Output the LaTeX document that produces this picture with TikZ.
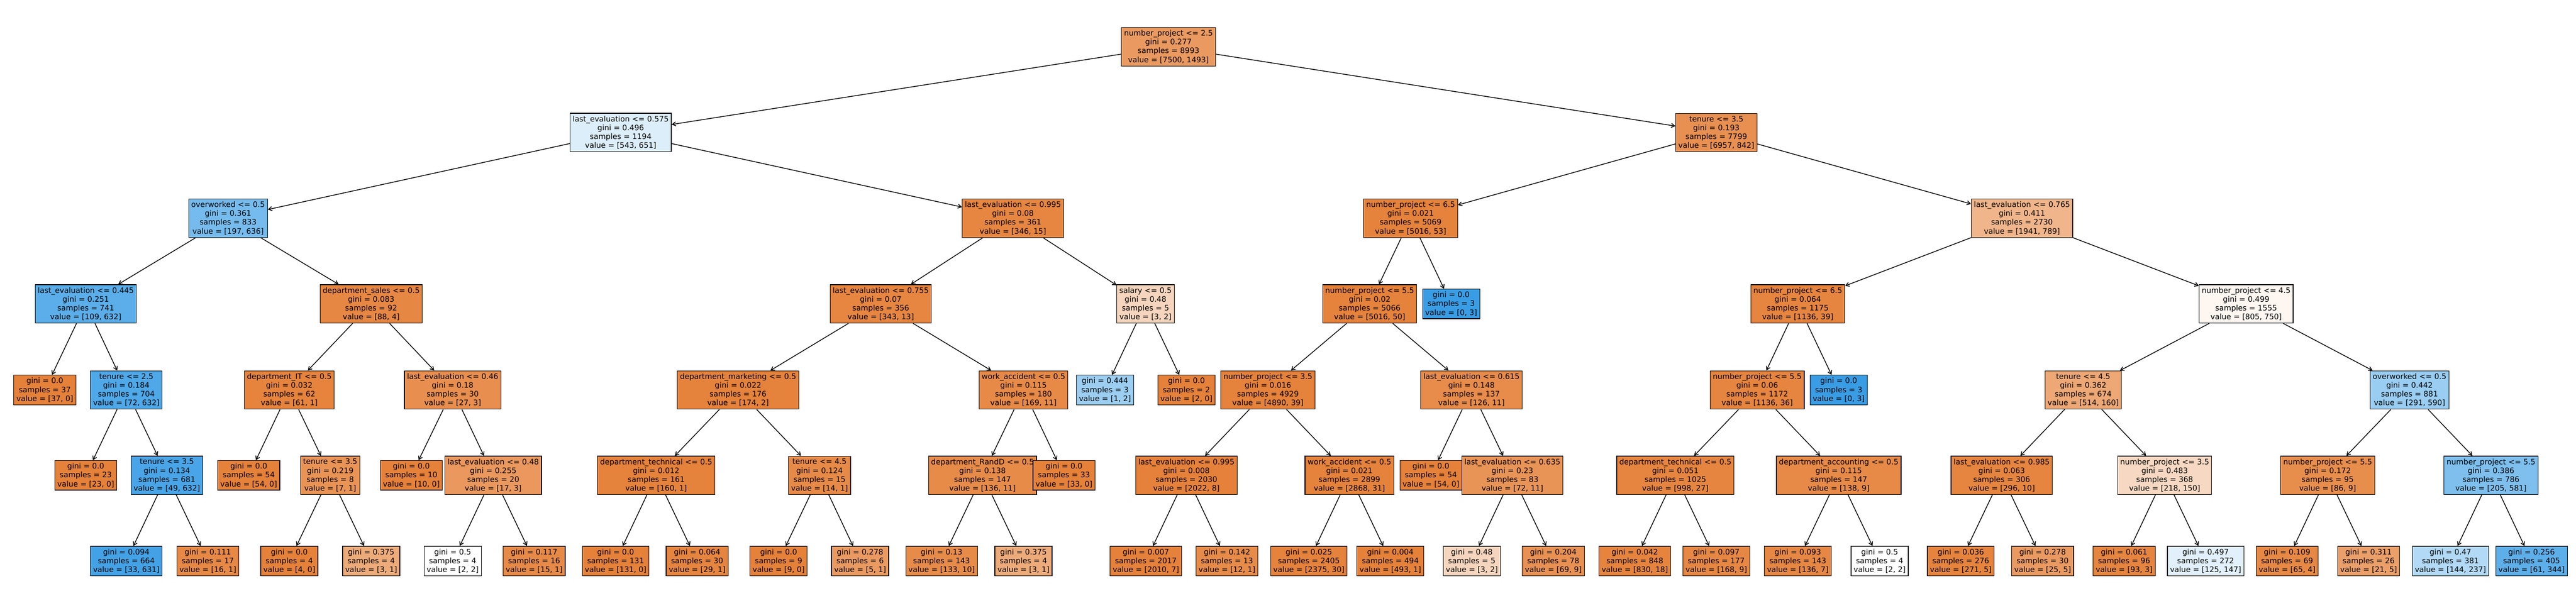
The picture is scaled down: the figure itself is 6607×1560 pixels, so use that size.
\documentclass[tikz,border=0pt]{standalone}
\usepackage{fontspec}
\setmainfont{DejaVu Sans}
\usetikzlibrary{arrows.meta}
\definecolor{orng}{RGB}{229,129,57}
\definecolor{blu}{RGB}{57,157,229}
\tikzset{
  box/.style={draw=black, line width=0.45pt, align=center, inner sep=1.9pt,
    font=\fontsize{5.5}{6.45}\selectfont},
  edge/.style={-{Straight Barb[length=2.5pt,width=3pt]}, line width=0.55pt}
}
\begin{document}
\begin{tikzpicture}[x=0.01cm,y=-0.01cm]
        \useasboundingbox (0,0) rectangle (6607,1560);
        % level 0 and 1
        \node[box,fill=orng!80] (n0) at (2997,120) {number\_project <= 2.5\\gini = 0.277\\samples = 8993\\value = [7500, 1493]};
        \node[box,fill=blu!17] (n1) at (1592,340) {last\_evaluation <= 0.575\\gini = 0.496\\samples = 1194\\value = [543, 651]};
        % left branch
        \node[box,fill=blu!69] (n2) at (585,560) {overworked <= 0.5\\gini = 0.361\\samples = 833\\value = [197, 636]};
        \node[box,fill=blu!83] (n3) at (220,780) {last\_evaluation <= 0.445\\gini = 0.251\\samples = 741\\value = [109, 632]};
        \node[box,fill=orng] (n4) at (115,1001) {gini = 0.0\\samples = 37\\value = [37, 0]};
        \node[box,fill=blu!89] (n5) at (324,1001) {tenure <= 2.5\\gini = 0.184\\samples = 704\\value = [72, 632]};
        \node[box,fill=orng] (n6) at (220,1220) {gini = 0.0\\samples = 23\\value = [23, 0]};
        \node[box,fill=blu!92] (n7) at (428,1220) {tenure <= 3.5\\gini = 0.134\\samples = 681\\value = [49, 632]};
        \node[box,fill=blu!95] (n8) at (324,1440) {gini = 0.094\\samples = 664\\value = [33, 631]};
        \node[box,fill=orng!94] (n9) at (533,1440) {gini = 0.111\\samples = 17\\value = [16, 1]};
        \node[box,fill=orng!95] (n10) at (952,780) {department\_sales <= 0.5\\gini = 0.083\\samples = 92\\value = [88, 4]};
        \node[box,fill=orng!98] (n11) at (742,1001) {department\_IT <= 0.5\\gini = 0.032\\samples = 62\\value = [61, 1]};
        \node[box,fill=orng] (n12) at (638,1220) {gini = 0.0\\samples = 54\\value = [54, 0]};
        \node[box,fill=orng!86] (n13) at (847,1220) {tenure <= 3.5\\gini = 0.219\\samples = 8\\value = [7, 1]};
        \node[box,fill=orng] (n14) at (742,1440) {gini = 0.0\\samples = 4\\value = [4, 0]};
        \node[box,fill=orng!67] (n15) at (952,1440) {gini = 0.375\\samples = 4\\value = [3, 1]};
        \node[box,fill=orng!89] (n16) at (1161,1001) {last\_evaluation <= 0.46\\gini = 0.18\\samples = 30\\value = [27, 3]};
        \node[box,fill=orng] (n17) at (1055,1220) {gini = 0.0\\samples = 10\\value = [10, 0]};
        \node[box,fill=orng!82] (n18) at (1265,1220) {last\_evaluation <= 0.48\\gini = 0.255\\samples = 20\\value = [17, 3]};
        \node[box,fill=white] (n19) at (1161,1440) {gini = 0.5\\samples = 4\\value = [2, 2]};
        \node[box,fill=orng!93] (n20) at (1370,1440) {gini = 0.117\\samples = 16\\value = [15, 1]};
        \node[box,fill=orng!96] (n21) at (2598,560) {last\_evaluation <= 0.995\\gini = 0.08\\samples = 361\\value = [346, 15]};
        \node[box,fill=orng!96] (n22) at (2259,780) {last\_evaluation <= 0.755\\gini = 0.07\\samples = 356\\value = [343, 13]};
        \node[box,fill=orng!99] (n23) at (1893,1001) {department\_marketing <= 0.5\\gini = 0.022\\samples = 176\\value = [174, 2]};
        \node[box,fill=orng!99] (n24) at (1683,1220) {department\_technical <= 0.5\\gini = 0.012\\samples = 161\\value = [160, 1]};
        \node[box,fill=orng] (n25) at (1579,1440) {gini = 0.0\\samples = 131\\value = [131, 0]};
        \node[box,fill=orng!97] (n26) at (1788,1440) {gini = 0.064\\samples = 30\\value = [29, 1]};
        \node[box,fill=orng!93] (n27) at (2102,1220) {tenure <= 4.5\\gini = 0.124\\samples = 15\\value = [14, 1]};
        \node[box,fill=orng] (n28) at (1997,1440) {gini = 0.0\\samples = 9\\value = [9, 0]};
        \node[box,fill=orng!80] (n29) at (2206,1440) {gini = 0.278\\samples = 6\\value = [5, 1]};
        \node[box,fill=orng!93] (n30) at (2625,1001) {work\_accident <= 0.5\\gini = 0.115\\samples = 180\\value = [169, 11]};
        \node[box,fill=orng!92] (n31) at (2520,1220) {department\_RandD <= 0.5\\gini = 0.138\\samples = 147\\value = [136, 11]};
        \node[box,fill=orng!92] (n32) at (2415,1440) {gini = 0.13\\samples = 143\\value = [133, 10]};
        \node[box,fill=orng!67] (n33) at (2625,1440) {gini = 0.375\\samples = 4\\value = [3, 1]};
        \node[box,fill=orng] (n34) at (2729,1220) {gini = 0.0\\samples = 33\\value = [33, 0]};
        \node[box,fill=orng!33] (n35) at (2938,780) {salary <= 0.5\\gini = 0.48\\samples = 5\\value = [3, 2]};
        \node[box,fill=blu!50] (n36) at (2834,1001) {gini = 0.444\\samples = 3\\value = [1, 2]};
        \node[box,fill=orng] (n37) at (3043,1001) {gini = 0.0\\samples = 2\\value = [2, 0]};
        % right branch
        \node[box,fill=orng!88] (n38) at (4402,340) {tenure <= 3.5\\gini = 0.193\\samples = 7799\\value = [6957, 842]};
        \node[box,fill=orng!99] (n39) at (3618,560) {number\_project <= 6.5\\gini = 0.021\\samples = 5069\\value = [5016, 53]};
        \node[box,fill=orng!99] (n40) at (3513,780) {number\_project <= 5.5\\gini = 0.02\\samples = 5066\\value = [5016, 50]};
        \node[box,fill=orng!99] (n41) at (3252,1001) {number\_project <= 3.5\\gini = 0.016\\samples = 4929\\value = [4890, 39]};
        \node[box,fill=orng!99.6] (n42) at (3043,1220) {last\_evaluation <= 0.995\\gini = 0.008\\samples = 2030\\value = [2022, 8]};
        \node[box,fill=orng!99.7] (n43) at (2939,1440) {gini = 0.007\\samples = 2017\\value = [2010, 7]};
        \node[box,fill=orng!92] (n44) at (3147,1440) {gini = 0.142\\samples = 13\\value = [12, 1]};
        \node[box,fill=orng!99] (n45) at (3461,1220) {work\_accident <= 0.5\\gini = 0.021\\samples = 2899\\value = [2868, 31]};
        \node[box,fill=orng!99] (n46) at (3357,1440) {gini = 0.025\\samples = 2405\\value = [2375, 30]};
        \node[box,fill=orng!99.8] (n47) at (3566,1440) {gini = 0.004\\samples = 494\\value = [493, 1]};
        \node[box,fill=orng!91] (n48) at (3774,1001) {last\_evaluation <= 0.615\\gini = 0.148\\samples = 137\\value = [126, 11]};
        \node[box,fill=orng] (n49) at (3670,1220) {gini = 0.0\\samples = 54\\value = [54, 0]};
        \node[box,fill=orng!85] (n50) at (3879,1220) {last\_evaluation <= 0.635\\gini = 0.23\\samples = 83\\value = [72, 11]};
        \node[box,fill=orng!33] (n51) at (3775,1440) {gini = 0.48\\samples = 5\\value = [3, 2]};
        \node[box,fill=orng!87] (n52) at (3984,1440) {gini = 0.204\\samples = 78\\value = [69, 9]};
        \node[box,fill=blu] (n53) at (3722,780) {gini = 0.0\\samples = 3\\value = [0, 3]};
        \node[box,fill=orng!59] (n54) at (5186,560) {last\_evaluation <= 0.765\\gini = 0.411\\samples = 2730\\value = [1941, 789]};
        \node[box,fill=orng!97] (n55) at (4611,780) {number\_project <= 6.5\\gini = 0.064\\samples = 1175\\value = [1136, 39]};
        \node[box,fill=orng!97] (n56) at (4507,1001) {number\_project <= 5.5\\gini = 0.06\\samples = 1172\\value = [1136, 36]};
        \node[box,fill=orng!97] (n57) at (4297,1220) {department\_technical <= 0.5\\gini = 0.051\\samples = 1025\\value = [998, 27]};
        \node[box,fill=orng!98] (n58) at (4193,1440) {gini = 0.042\\samples = 848\\value = [830, 18]};
        \node[box,fill=orng!95] (n59) at (4402,1440) {gini = 0.097\\samples = 177\\value = [168, 9]};
        \node[box,fill=orng!93] (n60) at (4716,1220) {department\_accounting <= 0.5\\gini = 0.115\\samples = 147\\value = [138, 9]};
        \node[box,fill=orng!95] (n61) at (4611,1440) {gini = 0.093\\samples = 143\\value = [136, 7]};
        \node[box,fill=white] (n62) at (4821,1440) {gini = 0.5\\samples = 4\\value = [2, 2]};
        \node[box,fill=blu] (n63) at (4716,1001) {gini = 0.0\\samples = 3\\value = [0, 3]};
        \node[box,fill=orng!7] (n64) at (5761,780) {number\_project <= 4.5\\gini = 0.499\\samples = 1555\\value = [805, 750]};
        \node[box,fill=orng!69] (n65) at (5343,1001) {tenure <= 4.5\\gini = 0.362\\samples = 674\\value = [514, 160]};
        \node[box,fill=orng!97] (n66) at (5134,1220) {last\_evaluation <= 0.985\\gini = 0.063\\samples = 306\\value = [296, 10]};
        \node[box,fill=orng!98] (n67) at (5029,1440) {gini = 0.036\\samples = 276\\value = [271, 5]};
        \node[box,fill=orng!80] (n68) at (5239,1440) {gini = 0.278\\samples = 30\\value = [25, 5]};
        \node[box,fill=orng!31] (n69) at (5552,1220) {number\_project <= 3.5\\gini = 0.483\\samples = 368\\value = [218, 150]};
        \node[box,fill=orng!97] (n70) at (5448,1440) {gini = 0.061\\samples = 96\\value = [93, 3]};
        \node[box,fill=blu!15] (n71) at (5657,1440) {gini = 0.497\\samples = 272\\value = [125, 147]};
        \node[box,fill=blu!51] (n72) at (6180,1001) {overworked <= 0.5\\gini = 0.442\\samples = 881\\value = [291, 590]};
        \node[box,fill=orng!90] (n73) at (5970,1220) {number\_project <= 5.5\\gini = 0.172\\samples = 95\\value = [86, 9]};
        \node[box,fill=orng!94] (n74) at (5866,1440) {gini = 0.109\\samples = 69\\value = [65, 4]};
        \node[box,fill=orng!76] (n75) at (6075,1440) {gini = 0.311\\samples = 26\\value = [21, 5]};
        \node[box,fill=blu!65] (n76) at (6389,1220) {number\_project <= 5.5\\gini = 0.386\\samples = 786\\value = [205, 581]};
        \node[box,fill=blu!39] (n77) at (6285,1440) {gini = 0.47\\samples = 381\\value = [144, 237]};
        \node[box,fill=blu!82] (n78) at (6493,1440) {gini = 0.256\\samples = 405\\value = [61, 344]};

        % connectors
        \foreach \p/\c in {0/1,0/38,1/2,1/21,2/3,2/10,3/4,3/5,5/6,5/7,7/8,7/9,
                10/11,10/16,11/12,11/13,13/14,13/15,16/17,16/18,18/19,18/20,
                21/22,21/35,22/23,22/30,23/24,23/27,24/25,24/26,27/28,27/29,
                30/31,30/34,31/32,31/33,35/36,35/37,38/39,38/54,39/40,39/53,
                40/41,40/48,41/42,41/45,42/43,42/44,45/46,45/47,48/49,48/50,
                50/51,50/52,54/55,54/64,55/56,55/63,56/57,56/60,57/58,57/59,
                60/61,60/62,64/65,64/72,65/66,65/69,66/67,66/68,69/70,69/71,
                72/73,72/76,73/74,73/75,76/77,76/78}
        \draw[edge] (n\p) -- (n\c);
\end{tikzpicture}
\end{document}
